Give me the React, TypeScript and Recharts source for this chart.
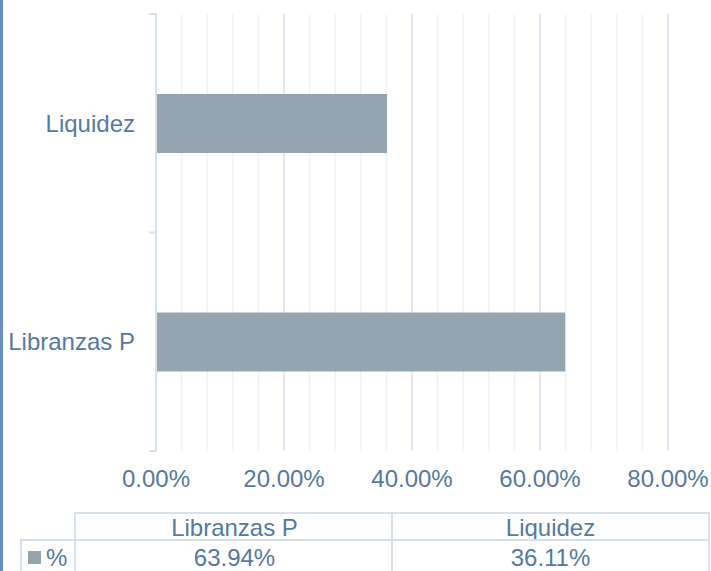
import { BarChart, Bar, XAxis, YAxis, CartesianGrid } from 'recharts';

const categories = ['Libranzas P', 'Liquidez'];
const percentValues = [63.94, 36.11];
const seriesName = '%';
const gridTicks = [0, 4, 8, 12, 16, 20, 24, 28, 32, 36, 40, 44, 48, 52, 56, 60, 64, 68, 72, 76, 80];
const labelEvery = 20;

const textColor = '#557a9f';
const barColor = '#94a5b0';
const lineColor = '#d6e1ec';
const minorColor = '#eef2f7';
const font = '"Liberation Sans", Arial, sans-serif';

const fmt = (v: number) => `${v.toFixed(2)}%`;

// grid line: every 5th one is a major line
const GridLine = (props: any) => {
    const { x1, y1, x2, y2, index } = props;
    const major = index % 5 === 0;
    return <line x1={x1} y1={y1} x2={x2} y2={y2} stroke={major ? lineColor : minorColor} strokeWidth={1.5} />;
};

// category label + small tick marks at the band edges (excel style)
const CatTick = (props: any) => {
    const { x, y, payload, index } = props;
    const half = payload?.offset ?? 0;
    const axisX = x + 21;
    return (
        <g>
            <line x1={axisX - 7} x2={axisX} y1={y - half} y2={y - half} stroke={lineColor} strokeWidth={2} />
            {index === 0 && <line x1={axisX - 7} x2={axisX} y1={y + half} y2={y + half} stroke={lineColor} strokeWidth={2} />}
            <text x={x} y={y} dy="0.355em" textAnchor="end" fill={textColor} fontSize={24} fontFamily={font}>
                {payload.value}
            </text>
        </g>
    );
};

const App = () => {
    const data = categories.map((name, i) => ({ name, value: percentValues[i] }));

    const cell = (left: number, top: number, width: number, height: number, extra = {}) => ({
        position: 'absolute' as const,
        left,
        top,
        width,
        height,
        boxSizing: 'border-box' as const,
        display: 'flex',
        alignItems: 'center',
        justifyContent: 'center',
        ...extra,
    });

    return (
        <div style={{ position: 'absolute', left: 0, top: 0, width: 711, height: 571, background: '#fff', overflow: 'hidden', fontFamily: font, color: textColor, fontSize: 24 }}>
            <div style={{ position: 'absolute', left: 0, top: 0, width: 3, height: 571, background: '#6c8fb5' }} />
            <BarChart
                width={711}
                height={505}
                data={data}
                layout="vertical"
                margin={{ top: 14, right: 43, left: 0, bottom: 0 }}
                style={{ position: 'absolute', left: 0, top: 0 }}
            >
                <CartesianGrid horizontal={false} vertical={GridLine} />
                <XAxis
                    type="number"
                    domain={[0, 80]}
                    ticks={gridTicks}
                    interval={0}
                    tickFormatter={(v: number) => (v % labelEvery === 0 ? fmt(v) : '')}
                    axisLine={false}
                    tickLine={false}
                    tickSize={0}
                    tickMargin={19}
                    height={54}
                    tick={{ fill: textColor, fontSize: 24, fontFamily: font }}
                />
                <YAxis
                    type="category"
                    dataKey="name"
                    reversed
                    width={156}
                    axisLine={{ stroke: lineColor, strokeWidth: 2 }}
                    tickLine={false}
                    tickSize={0}
                    tickMargin={21}
                    tick={<CatTick />}
                />
                <Bar dataKey="value" name={seriesName} fill={barColor} barSize={59} isAnimationActive={false} />
            </BarChart>

            {categories.map((c, i) => (
                <div
                    key={`h-${c}`}
                    style={cell(74 + i * 317, 512, 319, 29, {
                        borderTop: `2px solid ${lineColor}`,
                        borderLeft: `2px solid ${lineColor}`,
                        borderRight: i === categories.length - 1 ? `2px solid ${lineColor}` : 'none',
                    })}
                >
                    {c}
                </div>
            ))}
            <div
                style={cell(20, 539, 56, 40, {
                    borderTop: `2px solid ${lineColor}`,
                    borderLeft: `2px solid ${lineColor}`,
                    justifyContent: 'flex-start',
                    alignItems: 'flex-start',
                    paddingTop: 5,
                    paddingLeft: 6,
                })}
            >
                <span style={{ display: 'inline-block', width: 13, height: 13, background: barColor, marginTop: 5, marginRight: 5 }} />
                <span style={{ lineHeight: '24px' }}>{seriesName}</span>
            </div>
            {percentValues.map((v, i) => (
                <div
                    key={`v-${i}`}
                    style={cell(74 + i * 317, 539, 319, 40, {
                        borderTop: `2px solid ${lineColor}`,
                        borderLeft: `2px solid ${lineColor}`,
                        borderRight: i === percentValues.length - 1 ? `2px solid ${lineColor}` : 'none',
                        alignItems: 'flex-start',
                        paddingTop: 5,
                    })}
                >
                    <span style={{ lineHeight: '24px' }}>{fmt(v)}</span>
                </div>
            ))}
        </div>
    );
};

export default App;
